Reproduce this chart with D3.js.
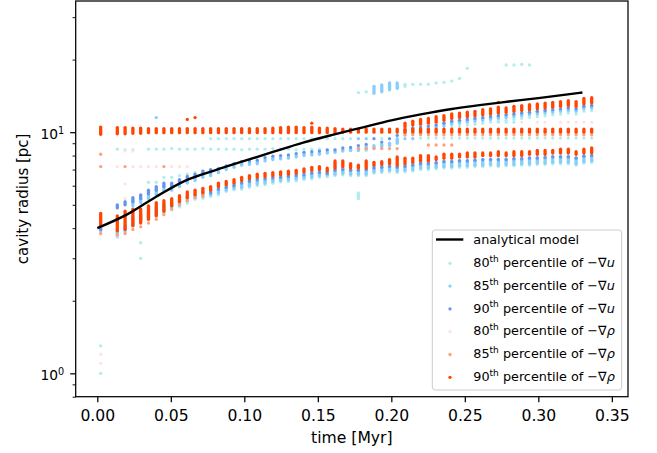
<!DOCTYPE html>
<html>
<head>
<meta charset="utf-8">
<script src="https://cdn.jsdelivr.net/npm/d3@7"></script>
<style>
  body { margin: 0; background: #fff; }
  svg text { font-family: "DejaVu Sans", sans-serif; fill: #000; }
</style>
</head>
<body>
<div id="chart"></div>
<script>
const _ = null;

// snapshot times [Myr], one per column of points
const times = [0.0023, 0.0136, 0.0189, 0.0242, 0.0295, 0.0348, 0.0401, 0.0453, 0.0506, 0.0559,
  0.0612, 0.0665, 0.0718, 0.0771, 0.0824, 0.0877, 0.0930, 0.0982, 0.1035, 0.1088,
  0.1141, 0.1194, 0.1247, 0.1300, 0.1353, 0.1406, 0.1459, 0.1511, 0.1564, 0.1617,
  0.1670, 0.1723, 0.1776, 0.1829, 0.1882, 0.1935, 0.1988, 0.2040, 0.2093, 0.2146,
  0.2199, 0.2252, 0.2305, 0.2358, 0.2411, 0.2464, 0.2517, 0.2569, 0.2622, 0.2675,
  0.2728, 0.2781, 0.2834, 0.2887, 0.2940, 0.2993, 0.3046, 0.3098, 0.3151, 0.3204,
  0.3257, 0.3310, 0.3363];

// analytical model
const modelTime = [0, 0.02, 0.04, 0.06, 0.08, 0.10, 0.12, 0.14, 0.16, 0.18, 0.20, 0.22, 0.24, 0.26, 0.28, 0.30, 0.33];
const modelRadius = [4.0, 4.55, 5.4, 6.3, 6.95, 7.6, 8.3, 9.05, 9.75, 10.45, 11.2, 11.85, 12.45, 12.95, 13.4, 13.85, 14.6];

const xTicks = [0, 0.05, 0.10, 0.15, 0.20, 0.25, 0.30, 0.35];
const yMajor = [1, 10];
const yMinor = [0.8, 0.9, 2, 3, 4, 5, 6, 7, 8, 9, 20, 30];

// radii per column; [lo, hi] is a stack of points over that span
// 80th percentile of -grad u
const u80Low = [[3.66,3.8],[3.81,3.95],[4.06,4.2],[4.26,4.4],[4.33,4.5],[4.47,4.62],[4.61,4.78],[4.76,4.92],[4.9,5.05],[5.07,5.22],
  [5.27,5.4],[5.32,5.45],[5.41,5.55],[5.5,5.65],[5.67,5.8],[5.77,5.9],[5.8,5.95],[5.9,6.05],[6.0,6.15],[6.05,6.2],
  [6.14,6.3],[6.23,6.38],[6.25,6.4],[6.28,6.45],[6.36,6.5],[6.4,6.55],[6.5,6.65],[6.54,6.7],[6.6,6.75],[6.65,6.8],
  [6.6,6.75],[6.6,6.75],[6.6,6.8],[6.75,6.9],[6.8,6.95],[6.85,7.0],[6.8,6.95],[6.85,7.0],[6.9,7.05],[7.0,7.15],
  [7.0,7.15],[7.05,7.2],[7.1,7.25],[7.1,7.25],[7.15,7.3],[7.15,7.3],[7.2,7.35],[7.2,7.35],[7.25,7.4],[7.2,7.35],
  [7.25,7.4],[7.25,7.4],[7.3,7.45],[7.3,7.45],[7.35,7.5],[7.35,7.5],[7.4,7.55],[7.4,7.55],[7.4,7.55],[7.3,7.45],
  [7.45,7.6],[7.5,7.65]];
const u80Row85 = [8.5, 8.45, 8.45, _, 8.5, 8.5, 8.5, 8.55, 8.5, 8.5, 8.5, 8.55, 8.5, 8.5, 8.5, 8.5, 8.45, 8.5, 8.5, 8.5,
  8.55, 8.5, 8.5, 8.45, 8.5, 8.5, 8.5, 8.45, 8.45, 8.4, 8.4, 8.45, 8.4];
const u80Row94 = [9.4, 9.4, 9.4, 9.4, 9.4, 9.4, 9.4, 9.4, 9.4, 9.4, 9.4, 9.4, 9.4, 9.4, 9.4, 9.4, 9.4, 9.4, 9.4,
  _, _, _, 9.4, _, _, _, 9.4, 9.45, 9.45, 9.45, 9.45, 9.45, 9.45, 9.45, 9.45, 9.45, 9.45, 9.45, 9.45,
  9.45, 9.45, 9.45, 9.45, 9.45, 9.45, 9.45, 9.45, 9.45, 9.45, 9.45];
const u80Mid = [6.2, 6.2, 6.5, 6.5, 6.6, 6.7, 6.8, 6.9, 7.0, 7.1];
const u80Up = [9.7, 9.8, 9.9, 10.0, 10.1, 10.3, 10.5, 10.6, 10.7, 10.8, 10.9, 11.0, 11.1, 11.2, 11.3, 11.4, 11.5, 11.6,
  11.7, 11.8, 11.9, 12.0, 11.9, 12.2, 12.3];
const u80High = [14.6, 14.7, _, _, _, _, [15.5,15.8], 15.8, 15.8, 15.8, 16.0, 16.1, 16.3, 16.7, 18.4, _, _, _, _,
  19.0, 19.0, 19.1, 19.0];
const u80Pts = [[0.0023, 1.3], [0.0023, 1.0], [0.0295, 3.48], [0.0295, 3.0], [0.1776, [5.3, 5.6]], [0.0023, 4.6],
  [0.2728, 11.0], [0.2781, 11.0], [0.2834, 11.0]];

// 85th percentile of -grad u
const u85Low = [[3.75,3.95],[3.9,4.1],[4.15,4.4],[4.35,4.55],[4.45,4.7],[4.6,4.85],[4.75,5.0],[4.9,5.1],[5.0,5.25],[5.2,5.4],
  [5.35,5.55],[5.4,5.65],[5.5,5.75],[5.6,5.9],[5.75,6.0],[5.85,6.1],[5.9,6.2],[6.0,6.3],[6.1,6.4],[6.15,6.45],
  [6.25,6.5],[6.3,6.55],[6.35,6.6],[6.4,6.65],[6.45,6.75],[6.5,6.85],[6.6,6.9],[6.65,6.85],[6.7,7.1],[6.75,7.1],
  [6.7,7.0],[6.7,7.0],[6.7,7.05],[6.85,7.2],[6.9,7.25],[6.95,7.3],[6.9,7.2],[6.95,7.3],[7.0,7.4],[7.1,7.5],
  [7.1,7.5],[7.15,7.5],[7.2,7.6],[7.2,7.6],[7.25,7.65],[7.25,7.65],[7.3,7.7],[7.3,7.7],[7.35,7.75],[7.3,7.75],
  [7.35,7.75],[7.35,7.8],[7.4,7.8],[7.4,7.85],[7.45,7.9],[7.45,7.9],[7.5,7.95],[7.5,7.95],[7.5,7.95],[7.4,7.85],
  [7.55,8.0],[7.6,8.0]];
const u85Mid = [[4.95,5.15],[5.1,5.3],[5.3,5.5],[5.5,5.7],[5.7,5.9],[5.75,5.95],[5.95,6.15],[6.15,6.35],[6.3,6.5],[6.5,6.7],
  [6.6,6.8],[6.8,6.9],[7.0,7.1],[7.15,7.25],[7.3,7.4],[7.35,7.45],[7.4,7.5],[7.6,7.7],[7.7,7.8],[7.75,7.85],
  [7.8,7.9],[7.9,8.0],[8.0,8.1],[8.05,8.15],[8.1,8.2],[8.2,8.3],[8.25,8.35],[8.35,8.45],[8.4,8.5],[8.4,8.6],
  [8.5,8.7],[8.6,8.8],[8.7,8.9],[8.8,9.0],[9.0,9.3]];
const u85Up = [[9.9,10.2],[10.1,10.4],[10.2,10.5],[10.3,10.6],[10.4,10.7],[10.6,10.9],[10.8,11.1],[10.9,11.2],[11.0,11.3],[11.1,11.4],
  [11.2,11.5],[11.3,11.6],[11.4,11.7],[11.5,11.8],[11.6,11.9],[11.7,12.0],[11.8,12.1],[11.9,12.2],[12.0,12.3],[12.1,12.4],
  [12.2,12.5],[12.3,12.6],[12.2,12.5],[12.5,12.8],[12.6,12.9]];
const u85High = [[14.5,15.5], [14.7,15.7], [15.0,16.0], [15.2,16.0]];
const u85Row94 = [9.4, 9.4, _, _, _, 9.4, 9.4, 9.4];
const u85Pts = [[0.0401, 11.5], [0.0023, [3.9, 4.1]]];

// 90th percentile of -grad u
const u90Low = [5.6, 5.8, 5.9, 6.0, 6.15, 6.25, 6.35, 6.4, 6.45, 6.5, 6.55, 6.6, 6.65, 6.75, 6.8, 6.75, 6.95, 7.0, 6.95, 6.95,
  7.0, 7.1, 7.15, 7.2, 7.15, 7.2, 7.3, 7.4, 7.4, 7.45, 7.55, 7.55, 7.6, 7.6, 7.65, 7.7, 7.7, 7.7, 7.7, 7.75,
  7.75, 7.8, 7.8, 7.85, 7.9, 7.9, 7.9, 7.8, 7.95, 8.0];
const u90Mid = [[4.85,5.0],[5.0,5.15],[5.15,5.35],[5.3,5.5],[5.55,5.75],[5.75,5.95],[5.95,6.15],[6.0,6.15],[6.2,6.35],[6.4,6.55],
  [6.55,6.7],[6.75,6.9],[6.85,7.0], 7.05, 7.25, 7.4, 7.55, 7.6, 7.65, 7.85,
  7.95, 8.0, 8.05, 8.15, 8.25, 8.3, 8.35, 8.45, 8.45, 8.6,
  8.65, 8.8, 8.9, 9.4, 9.1, 9.4, 9.7];
const u90Up = [10.2, 10.4, 10.5, 10.6, 10.7, 10.9, 11.1, 11.2, 11.3, 11.4, 11.5, 11.6, 11.7, 11.8, 11.9, 12.0, 12.1, 12.2,
  12.3, 12.4, 12.5, 12.6, 12.5, 12.8, 12.9];
const u90Pts = [[0.0023, 3.95]];

// 80th percentile of -grad rho
const rho80Row72 = [7.2, _, 7.2, 7.2, 7.2, 7.2, _, 7.2, 7.2, 7.2];
const rho80Row11 = [11.0, _, 11.0, 11.0, _, 11.0, 11.0, 11.0, 11.0, 11.0];
const rho80Pts = [[0.0023, 1.2], [0.0023, 1.1], [0.0189, 6.1], [0.0189, 5.3], [0.0189, 8.35], [0.0242, 8.35]];

// 85th percentile of -grad rho
const rho85Low = [3.8, 3.75, 3.8, 3.95, 4.05, 4.2, 4.35, 4.55, 4.8, 5.0, 5.2, 5.35, 5.45];
const rho85Row85 = [8.55, 8.55, 8.55, 8.55, 8.55, 8.55];
const rho85Row88 = [8.85, 8.85, 8.85, 8.85];
const rho85Const = [9.75, 9.75, 9.75, 9.75, 9.75, 9.75, 9.75, 9.75, 9.75, 9.75, 9.75, 9.75, 9.75, 9.75, 9.75, 9.75,
  9.75, 9.75, 9.75, 9.75, 9.75, 9.75, 9.75, 9.75, 9.75];
const rho85Pts = [[0.0023, 8.1], [0.0023, 7.2], [0.0189, 7.2], [0.0453, 7.2]];

// 90th percentile of -grad rho
const rho90Const = [[9.8,10.5],[9.85,10.45],[9.85,10.45],[9.9,10.4],[9.9,10.4],[9.95,10.35],[9.95,10.35],[9.95,10.35],[9.95,10.35],[9.95,10.35],
  [9.95,10.35],[9.95,10.35],[9.95,10.35],[9.95,10.35],[9.95,10.35],[9.95,10.35],[9.95,10.35],[9.95,10.35],[9.95,10.35],[9.95,10.35],
  [9.95,10.35],[9.95,10.4],[9.95,10.45],[9.95,10.5],[9.95,10.5],[9.95,10.45],[9.95,10.5],[9.95,10.4],[9.95,10.4],[9.95,10.35],
  [10.0,10.3],[10.0,10.3],[10.0,10.3],[10.0,10.3],[10.0,10.3],[10.0,10.3],[10.0,10.3],[10.0,10.3],[10.0,10.3],[10.0,10.3],
  [10.0,10.3],[10.0,10.3],[10.0,10.3],[10.0,10.3],[10.0,10.3],[10.0,10.3],[10.0,10.3],[10.0,10.3],[10.0,10.3],[10.0,10.3],
  [10.0,10.3],[10.0,10.3],[10.0,10.3],[10.0,10.3],[10.0,10.3],[10.0,10.3],[10.0,10.3],[10.0,10.3],[10.0,10.3],[10.0,10.3],
  [10.0,10.3],[10.0,10.3],[10.0,10.3]];
const rho90Low = [[4.1,4.6],[3.9,4.5],[3.95,4.7],[4.1,4.8],[4.2,4.8],[4.35,4.95],[4.5,5.1],[4.7,5.2],[4.95,5.3],[5.15,5.45],
  [5.35,5.65],[5.5,5.75],[5.6,5.85],[5.75,5.95],[5.95,6.15],[6.05,6.25],[6.15,6.35],[6.3,6.5],[6.4,6.6],[6.5,6.7],
  [6.55,6.75],[6.6,6.8],[6.65,6.85],[6.7,6.9],[6.75,6.95],[6.85,7.05],[6.95,7.15],[7.0,7.2],[6.9,7.1],[7.1,7.6],
  [7.2,7.6],[7.1,7.4],[7.1,7.3],[7.1,7.6],[7.3,7.5],[7.35,7.55],[7.4,7.7],[7.3,7.9],[7.4,7.8],[7.5,7.8],
  [7.6,8.0],[7.6,8.0],[7.7,7.9],[7.8,8.1],[7.8,8.1],[7.9,8.1],[7.9,8.2],[7.9,8.2],[8.0,8.2],[8.0,8.2],
  [8.0,8.3],[8.0,8.2],[8.0,8.3],[8.0,8.3],[8.1,8.3],[8.1,8.4],[8.1,8.4],[8.2,8.4],[8.2,8.5],[8.2,8.5],
  [8.1,8.3],[8.2,8.5],[8.2,8.6]];
const rho90Up = [[10.5,10.9],[10.7,11.1],[10.8,11.3],[10.9,11.4],[11.0,11.6],[11.2,11.7],[11.4,11.9],[11.5,12.0],[11.6,12.1],[11.7,12.2],
  [11.8,12.4],[11.9,12.5],[12.0,12.7],[12.1,12.6],[12.2,12.8],[12.3,12.9],[12.4,13.0],[12.5,13.1],[12.6,13.2],[12.7,13.3],
  [12.8,13.4],[12.9,13.5],[12.8,13.4],[13.1,13.8],[13.2,13.9]];
const rho90Pts = [[0.0612, 11.3], [0.0665, 11.5], [0.1459, 10.9], [0.2728, 13.3]];

const seriesKeys = ["u80", "u85", "u90", "rho80", "rho85", "rho90"];
const seriesColors = ["#afeeee", "#87cefa", "#6495ed", "#ffe4e1", "#ffa07a", "#ff4500"];
const seriesPct = ["80", "85", "90", "80", "85", "90"];
const seriesSym = ["u", "u", "u", "\u03c1", "\u03c1", "\u03c1"];

// which column each track starts at
const tracks = [
  {s: "u80", from: 1, v: u80Low}, {s: "u80", from: 1, v: u80Row85}, {s: "u80", from: 13, v: u80Row94},
  {s: "u80", from: 5, v: u80Mid}, {s: "u80", from: 38, v: u80Up}, {s: "u80", from: 32, v: u80High},
  {s: "u85", from: 1, v: u85Low}, {s: "u85", from: 3, v: u85Mid}, {s: "u85", from: 38, v: u85Up},
  {s: "u85", from: 34, v: u85High}, {s: "u85", from: 32, v: u85Row94},
  {s: "u90", from: 13, v: u90Low}, {s: "u90", from: 1, v: u90Mid}, {s: "u90", from: 38, v: u90Up},
  {s: "rho80", from: 1, v: rho80Row72}, {s: "rho80", from: 53, v: rho80Row11},
  {s: "rho85", from: 0, v: rho85Low}, {s: "rho85", from: 32, v: rho85Row85}, {s: "rho85", from: 41, v: rho85Row88},
  {s: "rho85", from: 38, v: rho85Const},
  {s: "rho90", from: 0, v: rho90Const}, {s: "rho90", from: 0, v: rho90Low}, {s: "rho90", from: 38, v: rho90Up}
];
const pointSets = {u80: u80Pts, u85: u85Pts, u90: u90Pts, rho80: rho80Pts, rho85: rho85Pts, rho90: rho90Pts};

const width = 657, height = 453;
const plot = {left: 75.7, right: 628, top: 1, bottom: 396.7};
const dotR = 1.65;
const tickFont = "15.6px", legendFont = "12.8px";

const x = d3.scaleLinear().domain([-0.0147, 0.361]).range([plot.left, plot.right]);
const y = d3.scaleLog().domain([0.8, 35]).range([plot.bottom, plot.top]);

const svg = d3.select("#chart").append("svg")
    .attr("width", width)
    .attr("height", height);

svg.append("defs").append("clipPath").attr("id", "clip")
  .append("rect")
    .attr("x", plot.left).attr("y", plot.top)
    .attr("width", plot.right - plot.left).attr("height", plot.bottom - plot.top);

// flatten all tracks into marks
var marks = [];
tracks.forEach(function(tr) {
    tr.v.forEach(function(v, i) {
        if (v === null) return;
        marks.push({s: tr.s, t: times[tr.from + i], v: v});
    });
});
seriesKeys.forEach(function(k) {
    pointSets[k].forEach(function(p) { marks.push({s: k, t: p[0], v: p[1]}); });
});

const data = svg.append("g").attr("clip-path", "url(#clip)");

seriesKeys.forEach(function(k, si) {
    var g = data.append("g").attr("class", "series " + k);
    var mine = marks.filter(function(m) { return m.s === k; });

    g.selectAll("line.stack")
      .data(mine.filter(function(m) { return Array.isArray(m.v); }))
      .enter().append("line")
        .attr("class", "stack")
        .attr("x1", function(d) { return x(d.t); })
        .attr("x2", function(d) { return x(d.t); })
        .attr("y1", function(d) { return y(d.v[0]); })
        .attr("y2", function(d) { return y(d.v[1]); })
        .attr("stroke", seriesColors[si])
        .attr("stroke-width", dotR * 2)
        .attr("stroke-linecap", "round");

    g.selectAll("circle")
      .data(mine.filter(function(m) { return !Array.isArray(m.v); }))
      .enter().append("circle")
        .attr("cx", function(d) { return x(d.t); })
        .attr("cy", function(d) { return y(d.v); })
        .attr("r", dotR)
        .attr("fill", seriesColors[si]);
});

// analytical model line
data.append("path")
    .datum(modelTime.map(function(t, i) { return [t, modelRadius[i]]; }))
    .attr("fill", "none")
    .attr("stroke", "#000")
    .attr("stroke-width", 2.4)
    .attr("d", d3.line()
        .x(function(d) { return x(d[0]); })
        .y(function(d) { return y(d[1]); })
        .curve(d3.curveMonotoneX));

// axes
var xAxis = svg.append("g")
    .attr("transform", "translate(0," + plot.bottom + ")")
    .call(d3.axisBottom(x).tickValues(xTicks).tickFormat(d3.format(".2f")).tickSize(5.5));

var yAxis = svg.append("g")
    .attr("transform", "translate(" + plot.left + ",0)")
    .call(d3.axisLeft(y).tickValues(yMajor).tickSize(5.5).tickPadding(6).tickFormat(function() { return ""; }));

var yMinorAxis = svg.append("g")
    .attr("transform", "translate(" + plot.left + ",0)")
    .call(d3.axisLeft(y).tickValues(yMinor).tickSize(3.1).tickFormat(function() { return ""; }));

[xAxis, yAxis, yMinorAxis].forEach(function(a) {
    a.select(".domain").remove();
    a.selectAll("text").attr("font-family", null).attr("fill", "#000");
    a.selectAll("line").attr("stroke", "#000").attr("stroke-width", 1.25);
});
yMinorAxis.selectAll("line").attr("stroke-width", 0.95);
xAxis.selectAll("text").attr("font-size", tickFont).attr("y", 24).attr("dy", 0);

// y labels as 10 with a superscript exponent
yAxis.selectAll(".tick text").each(function(d) {
    var t = d3.select(this).attr("font-size", "13.8px").attr("dy", "0.43em");
    t.append("tspan").text("10");
    t.append("tspan").attr("dy", "-0.45em").attr("font-size", "9.7px").text(Math.round(Math.log10(d)));
});

// frame
svg.append("rect")
    .attr("x", plot.left).attr("y", plot.top)
    .attr("width", plot.right - plot.left).attr("height", plot.bottom - plot.top)
    .attr("fill", "none")
    .attr("stroke", "#000")
    .attr("stroke-width", 1.25);

// axis titles
svg.append("text")
    .attr("x", (plot.left + plot.right) / 2)
    .attr("y", 443)
    .attr("text-anchor", "middle")
    .attr("font-size", tickFont)
    .text("time [Myr]");

svg.append("text")
    .attr("transform", "translate(27.5," + ((plot.top + plot.bottom) / 2) + ") rotate(-90)")
    .attr("text-anchor", "middle")
    .attr("font-size", "15px")
    .text("cavity radius [pc]");

// legend
var legend = svg.append("g").attr("font-size", legendFont);
legend.append("rect")
    .attr("x", 432.3).attr("y", 230)
    .attr("width", 189.4).attr("height", 160)
    .attr("rx", 3)
    .attr("fill", "#fff").attr("fill-opacity", 0.8)
    .attr("stroke", "#cccccc").attr("stroke-width", 1);

const rowY = function(i) { return 239.5 + i * 22.8; };

legend.append("line")
    .attr("x1", 436).attr("x2", 463.3)
    .attr("y1", rowY(0)).attr("y2", rowY(0))
    .attr("stroke", "#000").attr("stroke-width", 2.4);
legend.append("text")
    .attr("x", 473.3).attr("y", rowY(0) + 4.6)
    .text("analytical model");

seriesKeys.forEach(function(k, i) {
    var cy = rowY(i + 1);
    legend.append("circle")
        .attr("cx", 450).attr("cy", cy + 1).attr("r", dotR)
        .attr("fill", seriesColors[i]);
    var t = legend.append("text").attr("x", 473.3).attr("y", cy + 4.6);
    t.append("tspan").text(seriesPct[i]);
    t.append("tspan").attr("dy", -5.2).attr("font-size", "9px").text("th");
    t.append("tspan").attr("dy", 5.2).text(" percentile of \u2212\u2207");
    t.append("tspan").attr("font-style", "italic").text(seriesSym[i]);
});
</script>
</body>
</html>
